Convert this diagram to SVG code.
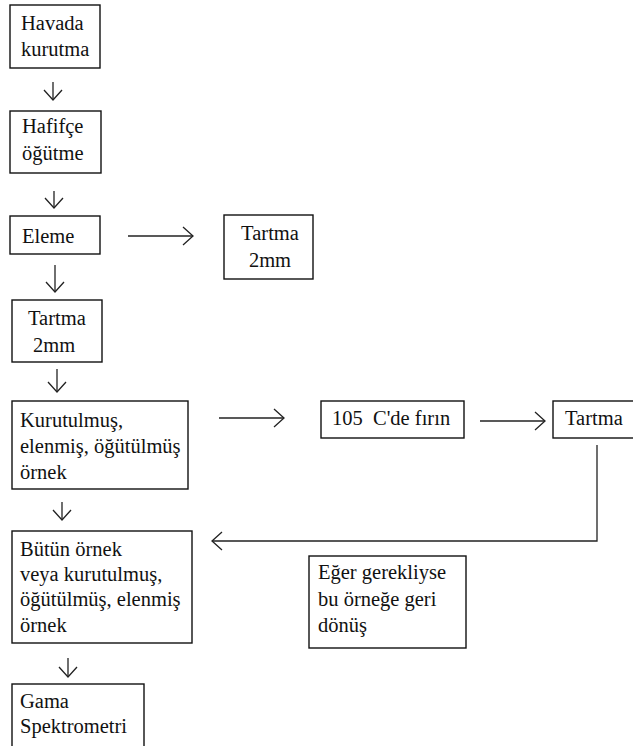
<svg xmlns="http://www.w3.org/2000/svg" width="633" height="746" viewBox="0 0 633 746">
<style>
.box{fill:#fff;stroke:#111;stroke-width:1.4}
.c{stroke:#222;stroke-width:1.3;fill:none;marker-end:url(#ah)}
</style>
<defs>
<marker id="ah" markerUnits="userSpaceOnUse" markerWidth="24" markerHeight="24" viewBox="-12 -12 24 24" refX="0" refY="0" orient="auto" overflow="visible">
<path d="M-10,-9 L0,0 L-10,9" fill="none" stroke="#222" stroke-width="1.3"/>
</marker>
</defs>
<rect width="633" height="746" fill="#fff"/>
<g id="connectors">
<path class="c" d="M53,82 V100"/>
<path class="c" d="M54,191 V208"/>
<path class="c" d="M55,265 V292"/>
<path class="c" d="M57,369 V392"/>
<path class="c" d="M62,502 V520"/>
<path class="c" d="M68,658 V677"/>
<path class="c" d="M128,236 H193"/>
<path class="c" d="M219,418 H284"/>
<path class="c" d="M480,421 H545"/>
<path class="c" d="M597,445 V541 H212"/>
</g>
<g font-family="Liberation Serif" font-size="20.5" fill="#111">
<g id="n1"><rect class="box" x="10" y="5" width="90" height="63"/><text x="21" y="30" font-family="Liberation Serif">Havada</text><text x="21" y="56" font-family="Liberation Serif">kurutma</text></g>
<g id="n2"><rect class="box" x="10" y="111" width="91" height="62"/><text x="22" y="133" font-family="Liberation Serif">Hafifçe</text><text x="22" y="160" font-family="Liberation Serif">öğütme</text></g>
<g id="n3"><rect class="box" x="10" y="216" width="90" height="38"/><text x="22" y="243" font-family="Liberation Serif">Eleme</text></g>
<g id="n4"><rect class="box" x="224" y="215" width="89" height="64"/><text x="270" y="240" text-anchor="middle" font-family="Liberation Serif">Tartma</text><text x="270" y="267" text-anchor="middle" font-family="Liberation Serif">2mm</text></g>
<g id="n5"><rect class="box" x="12" y="300" width="90" height="62"/><text x="28" y="325" font-family="Liberation Serif">Tartma</text><text x="33" y="352" font-family="Liberation Serif">2mm</text></g>
<g id="n6"><rect class="box" x="12" y="401" width="176" height="88"/><text x="20" y="427" font-family="Liberation Serif">Kurutulmuş,</text><text x="20" y="453" font-family="Liberation Serif">elenmiş, öğütülmüş</text><text x="20" y="479" font-family="Liberation Serif">örnek</text></g>
<g id="n7"><rect class="box" x="321" y="401" width="143" height="37"/><text x="332" y="425" xml:space="preserve" font-family="Liberation Serif">105  C'de fırın</text></g>
<g id="n8"><rect class="box" x="553" y="401" width="90" height="37"/><text x="565" y="425" font-family="Liberation Serif">Tartma</text></g>
<g id="n9"><rect class="box" x="12" y="531" width="180" height="112"/><text x="20" y="556" font-family="Liberation Serif">Bütün örnek</text><text x="20" y="581" font-family="Liberation Serif">veya kurutulmuş,</text><text x="20" y="606" font-family="Liberation Serif">öğütülmüş, elenmiş</text><text x="20" y="632" font-family="Liberation Serif">örnek</text></g>
<g id="n10"><rect class="box" x="12" y="684" width="132" height="70"/><text x="20" y="708" font-family="Liberation Serif">Gama</text><text x="20" y="733" font-family="Liberation Serif">Spektrometri</text></g>
<g id="n11"><rect class="box" x="309" y="556" width="157" height="92"/><text x="318" y="579" font-family="Liberation Serif">Eğer gerekliyse</text><text x="318" y="606" font-family="Liberation Serif">bu örneğe geri</text><text x="318" y="632" font-family="Liberation Serif">dönüş</text></g>
</g>
</svg>
